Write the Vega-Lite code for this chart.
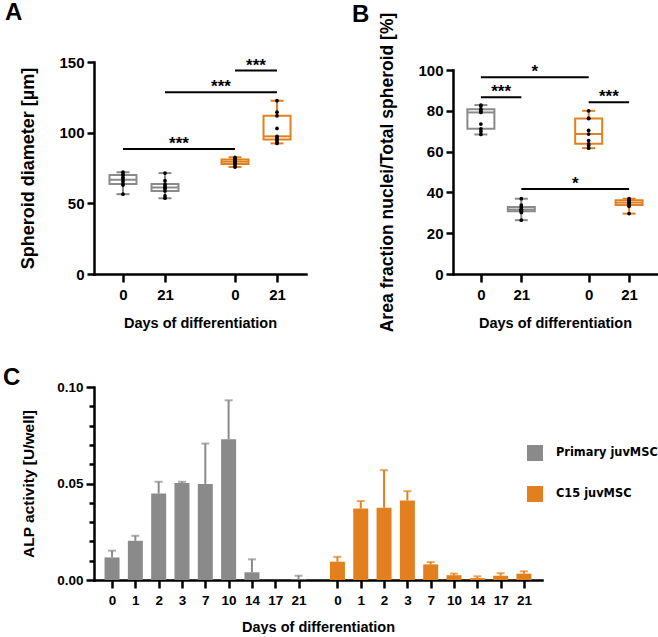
{
  "$schema": "https://vega.github.io/schema/vega-lite/v6.json",
  "padding": {"left": 3, "top": 1, "right": 0, "bottom": 0},
  "background": "white",
  "bounds": "full",
  "spacing": 34,
  "resolve": {"legend": {"color": "independent"}},
  "datasets": {
    "spheroid": [
      {"grp": "Primary juvMSC", "key": "P0", "v": 56.5}, {"grp": "Primary juvMSC", "key": "P0", "v": 62.9}, {"grp": "Primary juvMSC", "key": "P0", "v": 63.6}, {"grp": "Primary juvMSC", "key": "P0", "v": 65.2}, {"grp": "Primary juvMSC", "key": "P0", "v": 66.7}, {"grp": "Primary juvMSC", "key": "P0", "v": 68.3}, {"grp": "Primary juvMSC", "key": "P0", "v": 70}, {"grp": "Primary juvMSC", "key": "P0", "v": 70.5}, {"grp": "Primary juvMSC", "key": "P0", "v": 72},
      {"grp": "Primary juvMSC", "key": "P21", "v": 53.6}, {"grp": "Primary juvMSC", "key": "P21", "v": 55.2}, {"grp": "Primary juvMSC", "key": "P21", "v": 58.8}, {"grp": "Primary juvMSC", "key": "P21", "v": 60.5}, {"grp": "Primary juvMSC", "key": "P21", "v": 61.2}, {"grp": "Primary juvMSC", "key": "P21", "v": 62.4}, {"grp": "Primary juvMSC", "key": "P21", "v": 63.6}, {"grp": "Primary juvMSC", "key": "P21", "v": 66}, {"grp": "Primary juvMSC", "key": "P21", "v": 71.4},
      {"grp": "C15 juvMSC", "key": "C0", "v": 75.7}, {"grp": "C15 juvMSC", "key": "C0", "v": 76.5}, {"grp": "C15 juvMSC", "key": "C0", "v": 77.9}, {"grp": "C15 juvMSC", "key": "C0", "v": 78.8}, {"grp": "C15 juvMSC", "key": "C0", "v": 79.5}, {"grp": "C15 juvMSC", "key": "C0", "v": 80.2}, {"grp": "C15 juvMSC", "key": "C0", "v": 81}, {"grp": "C15 juvMSC", "key": "C0", "v": 81.8}, {"grp": "C15 juvMSC", "key": "C0", "v": 82.6},
      {"grp": "C15 juvMSC", "key": "C21", "v": 92.4}, {"grp": "C15 juvMSC", "key": "C21", "v": 93.8}, {"grp": "C15 juvMSC", "key": "C21", "v": 95.2}, {"grp": "C15 juvMSC", "key": "C21", "v": 96.3}, {"grp": "C15 juvMSC", "key": "C21", "v": 97.4}, {"grp": "C15 juvMSC", "key": "C21", "v": 103}, {"grp": "C15 juvMSC", "key": "C21", "v": 111.9}, {"grp": "C15 juvMSC", "key": "C21", "v": 114.5}, {"grp": "C15 juvMSC", "key": "C21", "v": 122.6}
    ],
    "nuclei": [
      {"grp": "Primary juvMSC", "key": "P0", "v": 68.4}, {"grp": "Primary juvMSC", "key": "P0", "v": 69.9}, {"grp": "Primary juvMSC", "key": "P0", "v": 71.2}, {"grp": "Primary juvMSC", "key": "P0", "v": 73.5}, {"grp": "Primary juvMSC", "key": "P0", "v": 79.2}, {"grp": "Primary juvMSC", "key": "P0", "v": 79.8}, {"grp": "Primary juvMSC", "key": "P0", "v": 80.8}, {"grp": "Primary juvMSC", "key": "P0", "v": 82.3}, {"grp": "Primary juvMSC", "key": "P0", "v": 82.8},
      {"grp": "Primary juvMSC", "key": "P21", "v": 26.4}, {"grp": "Primary juvMSC", "key": "P21", "v": 30.2}, {"grp": "Primary juvMSC", "key": "P21", "v": 30.7}, {"grp": "Primary juvMSC", "key": "P21", "v": 31.3}, {"grp": "Primary juvMSC", "key": "P21", "v": 31.6}, {"grp": "Primary juvMSC", "key": "P21", "v": 31.8}, {"grp": "Primary juvMSC", "key": "P21", "v": 32.9}, {"grp": "Primary juvMSC", "key": "P21", "v": 33.8}, {"grp": "Primary juvMSC", "key": "P21", "v": 36.9},
      {"grp": "C15 juvMSC", "key": "C0", "v": 61.7}, {"grp": "C15 juvMSC", "key": "C0", "v": 63}, {"grp": "C15 juvMSC", "key": "C0", "v": 63.8}, {"grp": "C15 juvMSC", "key": "C0", "v": 65.4}, {"grp": "C15 juvMSC", "key": "C0", "v": 68.6}, {"grp": "C15 juvMSC", "key": "C0", "v": 70.4}, {"grp": "C15 juvMSC", "key": "C0", "v": 76.2}, {"grp": "C15 juvMSC", "key": "C0", "v": 76.4}, {"grp": "C15 juvMSC", "key": "C0", "v": 80},
      {"grp": "C15 juvMSC", "key": "C21", "v": 29.6}, {"grp": "C15 juvMSC", "key": "C21", "v": 33.2}, {"grp": "C15 juvMSC", "key": "C21", "v": 33.8}, {"grp": "C15 juvMSC", "key": "C21", "v": 34.6}, {"grp": "C15 juvMSC", "key": "C21", "v": 35}, {"grp": "C15 juvMSC", "key": "C21", "v": 35.6}, {"grp": "C15 juvMSC", "key": "C21", "v": 36.2}, {"grp": "C15 juvMSC", "key": "C21", "v": 36.5}, {"grp": "C15 juvMSC", "key": "C21", "v": 36.9}
    ],
    "sigA": [
      {"from": "P0", "to": "C0", "mid": "P0-C0", "y": 88.5, "label": "***"},
      {"from": "P21", "to": "C21", "mid": "P21-C21", "y": 128.6, "label": "***"},
      {"from": "C0", "to": "C21", "mid": "C0-C21", "y": 143.9, "label": "***"}
    ],
    "sigB": [
      {"from": "P0", "to": "C0", "mid": "P0-C0", "y": 96.4, "label": "*"},
      {"from": "P0", "to": "P21", "mid": "P0-P21", "y": 86.6, "label": "***"},
      {"from": "C0", "to": "C21", "mid": "C0-C21", "y": 84.2, "label": "***"},
      {"from": "P21", "to": "C21", "mid": "P21-C21", "y": 41.7, "label": "*"}
    ],
    "alp": [
      {"grp": "Primary juvMSC", "key": "P0", "mean": 0.0117, "err": 0.0152},
      {"grp": "Primary juvMSC", "key": "P1", "mean": 0.0203, "err": 0.0229},
      {"grp": "Primary juvMSC", "key": "P2", "mean": 0.0448, "err": 0.0509},
      {"grp": "Primary juvMSC", "key": "P3", "mean": 0.0503, "err": 0.0509},
      {"grp": "Primary juvMSC", "key": "P7", "mean": 0.0498, "err": 0.0707},
      {"grp": "Primary juvMSC", "key": "P10", "mean": 0.0729, "err": 0.0931},
      {"grp": "Primary juvMSC", "key": "P14", "mean": 0.004, "err": 0.0107},
      {"grp": "Primary juvMSC", "key": "P17", "mean": 0, "err": null},
      {"grp": "Primary juvMSC", "key": "P21", "mean": 0.0003, "err": 0.0022},
      {"grp": "C15 juvMSC", "key": "C0", "mean": 0.0095, "err": 0.012},
      {"grp": "C15 juvMSC", "key": "C1", "mean": 0.0371, "err": 0.0409},
      {"grp": "C15 juvMSC", "key": "C2", "mean": 0.0374, "err": 0.0569},
      {"grp": "C15 juvMSC", "key": "C3", "mean": 0.0412, "err": 0.046},
      {"grp": "C15 juvMSC", "key": "C7", "mean": 0.0081, "err": 0.0093},
      {"grp": "C15 juvMSC", "key": "C10", "mean": 0.0025, "err": 0.0033},
      {"grp": "C15 juvMSC", "key": "C14", "mean": 0.001, "err": 0.0019},
      {"grp": "C15 juvMSC", "key": "C17", "mean": 0.0022, "err": 0.0035},
      {"grp": "C15 juvMSC", "key": "C21", "mean": 0.0033, "err": 0.0045}
    ]
  },
  "config": {
    "font": "Liberation Sans",
    "view": {"stroke": null},
    "axis": {"grid": false, "domainColor": "black", "domainWidth": 2.5, "domainCap": "square", "tickColor": "black", "tickWidth": 2.5, "labelColor": "black", "labelFont": "Liberation Sans", "labelFontWeight": "bold", "titleFont": "Liberation Sans", "titleFontWeight": "bold", "titleColor": "black", "labelAngle": 0},
    "title": {"font": "Liberation Sans", "fontWeight": "bold", "fontSize": 24, "color": "black", "anchor": "start", "frame": "group"}
  },
  "vconcat": [
    {
      "bounds": "flush",
      "spacing": 147,
      "hconcat": [
        {
          "width": 212,
          "height": 212,
          "title": {"text": "A", "dx": -89, "offset": 30},
          "layer": [
            {
              "data": {"name": "spheroid"},
              "mark": {"type": "rule", "strokeWidth": 2},
              "encoding": {
                "x": {"field": "key", "type": "nominal", "scale": {"type": "point", "padding": 0.14, "domain": ["e1", "e2", "e3", "e4", "P0", "s1", "s2", "P0-P21", "s4", "s5", "P21", "s7", "P0-C0", "s9", "s10", "s11", "s12", "s13", "P21-C21", "s15", "C0", "s17", "s18", "C0-C21", "s20", "s21", "C21", "e5", "e6", "e7", "e8"]}, "axis": {"values": ["P0", "P21", "C0", "C21"], "labelExpr": "substring(datum.value, 1)", "title": "Days of differentiation", "tickSize": 8, "labelPadding": 5, "labelFontSize": 15, "titleFontSize": 14.5, "titlePadding": 14}},
                "y": {"aggregate": "min", "field": "v", "type": "quantitative", "scale": {"domain": [0, 150], "nice": false}, "axis": {"values": [0, 50, 100, 150], "title": "Spheroid diameter [µm]", "tickSize": 7, "labelPadding": 3, "labelFontSize": 15, "titleFontSize": 18, "titlePadding": 21}},
                "y2": {"aggregate": "max", "field": "v"},
                "color": {"field": "grp", "type": "nominal", "scale": {"domain": ["Primary juvMSC", "C15 juvMSC"], "range": ["#8a8a8a", "#E2801F"]}, "legend": null}
              }
            },
            {
              "data": {"name": "spheroid"},
              "mark": {"type": "bar", "width": 27, "fill": "white", "strokeWidth": 2},
              "encoding": {
                "x": {"field": "key", "type": "nominal"},
                "y": {"aggregate": "q1", "field": "v", "type": "quantitative"},
                "y2": {"aggregate": "q3", "field": "v"},
                "stroke": {"field": "grp", "type": "nominal", "scale": {"domain": ["Primary juvMSC", "C15 juvMSC"], "range": ["#8a8a8a", "#E2801F"]}, "legend": null}
              }
            },
            {
              "data": {"name": "spheroid"},
              "mark": {"type": "tick", "size": 27, "thickness": 2},
              "encoding": {
                "x": {"field": "key", "type": "nominal"},
                "y": {"aggregate": "median", "field": "v", "type": "quantitative"},
                "color": {"field": "grp", "type": "nominal", "legend": null}
              }
            },
            {
              "data": {"name": "spheroid"},
              "mark": {"type": "tick", "size": 13, "thickness": 2},
              "encoding": {
                "x": {"field": "key", "type": "nominal"},
                "y": {"aggregate": "min", "field": "v", "type": "quantitative"},
                "color": {"field": "grp", "type": "nominal", "legend": null}
              }
            },
            {
              "data": {"name": "spheroid"},
              "mark": {"type": "tick", "size": 13, "thickness": 2},
              "encoding": {
                "x": {"field": "key", "type": "nominal"},
                "y": {"aggregate": "max", "field": "v", "type": "quantitative"},
                "color": {"field": "grp", "type": "nominal", "legend": null}
              }
            },
            {
              "data": {"name": "spheroid"},
              "mark": {"type": "point", "filled": true, "color": "black", "size": 14, "opacity": 1},
              "encoding": {
                "x": {"field": "key", "type": "nominal"},
                "y": {"field": "v", "type": "quantitative"}
              }
            },
            {
              "data": {"name": "sigA"},
              "mark": {"type": "rule", "strokeWidth": 2, "color": "black"},
              "encoding": {
                "x": {"field": "from", "type": "nominal"},
                "x2": {"field": "to"},
                "y": {"field": "y", "type": "quantitative"}
              }
            },
            {
              "data": {"name": "sigA"},
              "mark": {"type": "text", "fontSize": 17, "fontWeight": "bold", "baseline": "bottom", "dy": 4, "color": "black"},
              "encoding": {
                "x": {"field": "mid", "type": "nominal"},
                "y": {"field": "y", "type": "quantitative"},
                "text": {"field": "label"}
              }
            }
          ]
        },
        {
          "width": 204,
          "height": 212,
          "title": {"text": "B", "dx": -101, "offset": -15},
          "layer": [
            {
              "data": {"name": "nuclei"},
              "mark": {"type": "rule", "strokeWidth": 2},
              "encoding": {
                "x": {"field": "key", "type": "nominal", "scale": {"type": "point", "padding": 0.14, "domain": ["e1", "e2", "e3", "e4", "P0", "s1", "s2", "P0-P21", "s4", "s5", "P21", "s7", "P0-C0", "s9", "s10", "s11", "s12", "s13", "P21-C21", "s15", "C0", "s17", "s18", "C0-C21", "s20", "s21", "C21", "e5", "e6", "e7", "e8"]}, "axis": {"values": ["P0", "P21", "C0", "C21"], "labelExpr": "substring(datum.value, 1)", "title": "Days of differentiation", "tickSize": 8, "labelPadding": 5, "labelFontSize": 15, "titleFontSize": 14.5, "titlePadding": 14}},
                "y": {"aggregate": "min", "field": "v", "type": "quantitative", "scale": {"domain": [0, 100], "nice": false, "range": [212, 8]}, "axis": {"values": [0, 20, 40, 60, 80, 100], "title": "Area fraction nuclei/Total spheroid [%]", "tickSize": 7, "labelPadding": 3, "labelFontSize": 15, "titleFontSize": 17.5, "titlePadding": 21}},
                "y2": {"aggregate": "max", "field": "v"},
                "color": {"field": "grp", "type": "nominal", "legend": null}
              }
            },
            {
              "data": {"name": "nuclei"},
              "mark": {"type": "bar", "width": 27, "fill": "white", "strokeWidth": 2},
              "encoding": {
                "x": {"field": "key", "type": "nominal"},
                "y": {"aggregate": "q1", "field": "v", "type": "quantitative"},
                "y2": {"aggregate": "q3", "field": "v"},
                "stroke": {"field": "grp", "type": "nominal", "legend": null}
              }
            },
            {
              "data": {"name": "nuclei"},
              "mark": {"type": "tick", "size": 27, "thickness": 2},
              "encoding": {
                "x": {"field": "key", "type": "nominal"},
                "y": {"aggregate": "median", "field": "v", "type": "quantitative"},
                "color": {"field": "grp", "type": "nominal", "legend": null}
              }
            },
            {
              "data": {"name": "nuclei"},
              "mark": {"type": "tick", "size": 13, "thickness": 2},
              "encoding": {
                "x": {"field": "key", "type": "nominal"},
                "y": {"aggregate": "min", "field": "v", "type": "quantitative"},
                "color": {"field": "grp", "type": "nominal", "legend": null}
              }
            },
            {
              "data": {"name": "nuclei"},
              "mark": {"type": "tick", "size": 13, "thickness": 2},
              "encoding": {
                "x": {"field": "key", "type": "nominal"},
                "y": {"aggregate": "max", "field": "v", "type": "quantitative"},
                "color": {"field": "grp", "type": "nominal", "legend": null}
              }
            },
            {
              "data": {"name": "nuclei"},
              "mark": {"type": "point", "filled": true, "color": "black", "size": 14, "opacity": 1},
              "encoding": {
                "x": {"field": "key", "type": "nominal"},
                "y": {"field": "v", "type": "quantitative"}
              }
            },
            {
              "data": {"name": "sigB"},
              "mark": {"type": "rule", "strokeWidth": 2, "color": "black"},
              "encoding": {
                "x": {"field": "from", "type": "nominal"},
                "x2": {"field": "to"},
                "y": {"field": "y", "type": "quantitative"}
              }
            },
            {
              "data": {"name": "sigB"},
              "mark": {"type": "text", "fontSize": 17, "fontWeight": "bold", "baseline": "bottom", "dy": 4, "color": "black"},
              "encoding": {
                "x": {"field": "mid", "type": "nominal"},
                "y": {"field": "y", "type": "quantitative"},
                "text": {"field": "label"}
              }
            }
          ]
        }
      ]
    },
    {
      "width": 448,
      "height": 193,
      "title": {"text": "C", "dx": -91, "offset": -10},
      "data": {"name": "alp"},
      "resolve": {"axis": {"y": "independent"}},
      "layer": [
        {
          "mark": {"type": "bar", "width": 15},
          "encoding": {
            "x": {"field": "key", "type": "nominal", "scale": {"type": "point", "padding": 0.32, "domain": ["e1", "e2", "P0", "d1", "d2", "P1", "d3", "d4", "P2", "d5", "d6", "P3", "d7", "d8", "P7", "d9", "d10", "P10", "d11", "d12", "P14", "d13", "d14", "P17", "d15", "d16", "P21", "d17", "d18", "d19", "d20", "C0", "d21", "d22", "C1", "d23", "d24", "C2", "d25", "d26", "C3", "d27", "d28", "C7", "d29", "d30", "C10", "d31", "d32", "C14", "d33", "d34", "C17", "d35", "d36", "C21", "e3", "e4"]}, "axis": {"values": ["P0", "P1", "P2", "P3", "P7", "P10", "P14", "P17", "P21", "C0", "C1", "C2", "C3", "C7", "C10", "C14", "C17", "C21"], "labelExpr": "substring(datum.value, 1)", "title": "Days of differentiation", "tickSize": 8, "labelPadding": 5, "labelFontSize": 13.5, "titleFontSize": 14.5, "titlePadding": 14}},
            "y": {"field": "mean", "type": "quantitative", "scale": {"domain": [0, 0.1], "nice": false}, "axis": {"orient": "left", "values": [0, 0.05, 0.1], "format": ".2f", "title": "ALP activity [U/well]", "tickSize": 8, "labelPadding": 3, "labelFontSize": 13.5, "titleFontSize": 15.5, "titlePadding": 20}},
            "color": {"field": "grp", "type": "nominal", "scale": {"domain": ["Primary juvMSC", "C15 juvMSC"], "range": ["#808080", "#E2801F"]}, "legend": {"orient": "none", "legendX": 433, "legendY": 58, "title": null, "symbolType": "square", "symbolSize": 256, "symbolStrokeWidth": 0, "labelFont": "DejaVu Sans", "labelFontWeight": "bold", "labelFontSize": 11.4, "labelColor": "black", "labelOffset": 13, "rowPadding": 25, "padding": 0}}
          }
        },
        {
          "mark": {"type": "rule", "strokeWidth": 2},
          "encoding": {
            "x": {"field": "key", "type": "nominal"},
            "y": {"field": "mean", "type": "quantitative", "axis": {"orient": "left", "values": [0.01, 0.02, 0.03, 0.04, 0.06, 0.07, 0.08, 0.09], "labels": false, "domain": false, "tickSize": 5, "title": null}},
            "y2": {"field": "err"},
            "color": {"field": "grp", "type": "nominal", "legend": null}
          }
        },
        {
          "mark": {"type": "tick", "size": 8, "thickness": 2},
          "encoding": {
            "x": {"field": "key", "type": "nominal"},
            "y": {"field": "err", "type": "quantitative", "axis": null},
            "color": {"field": "grp", "type": "nominal", "legend": null}
          }
        }
      ]
    }
  ]
}
